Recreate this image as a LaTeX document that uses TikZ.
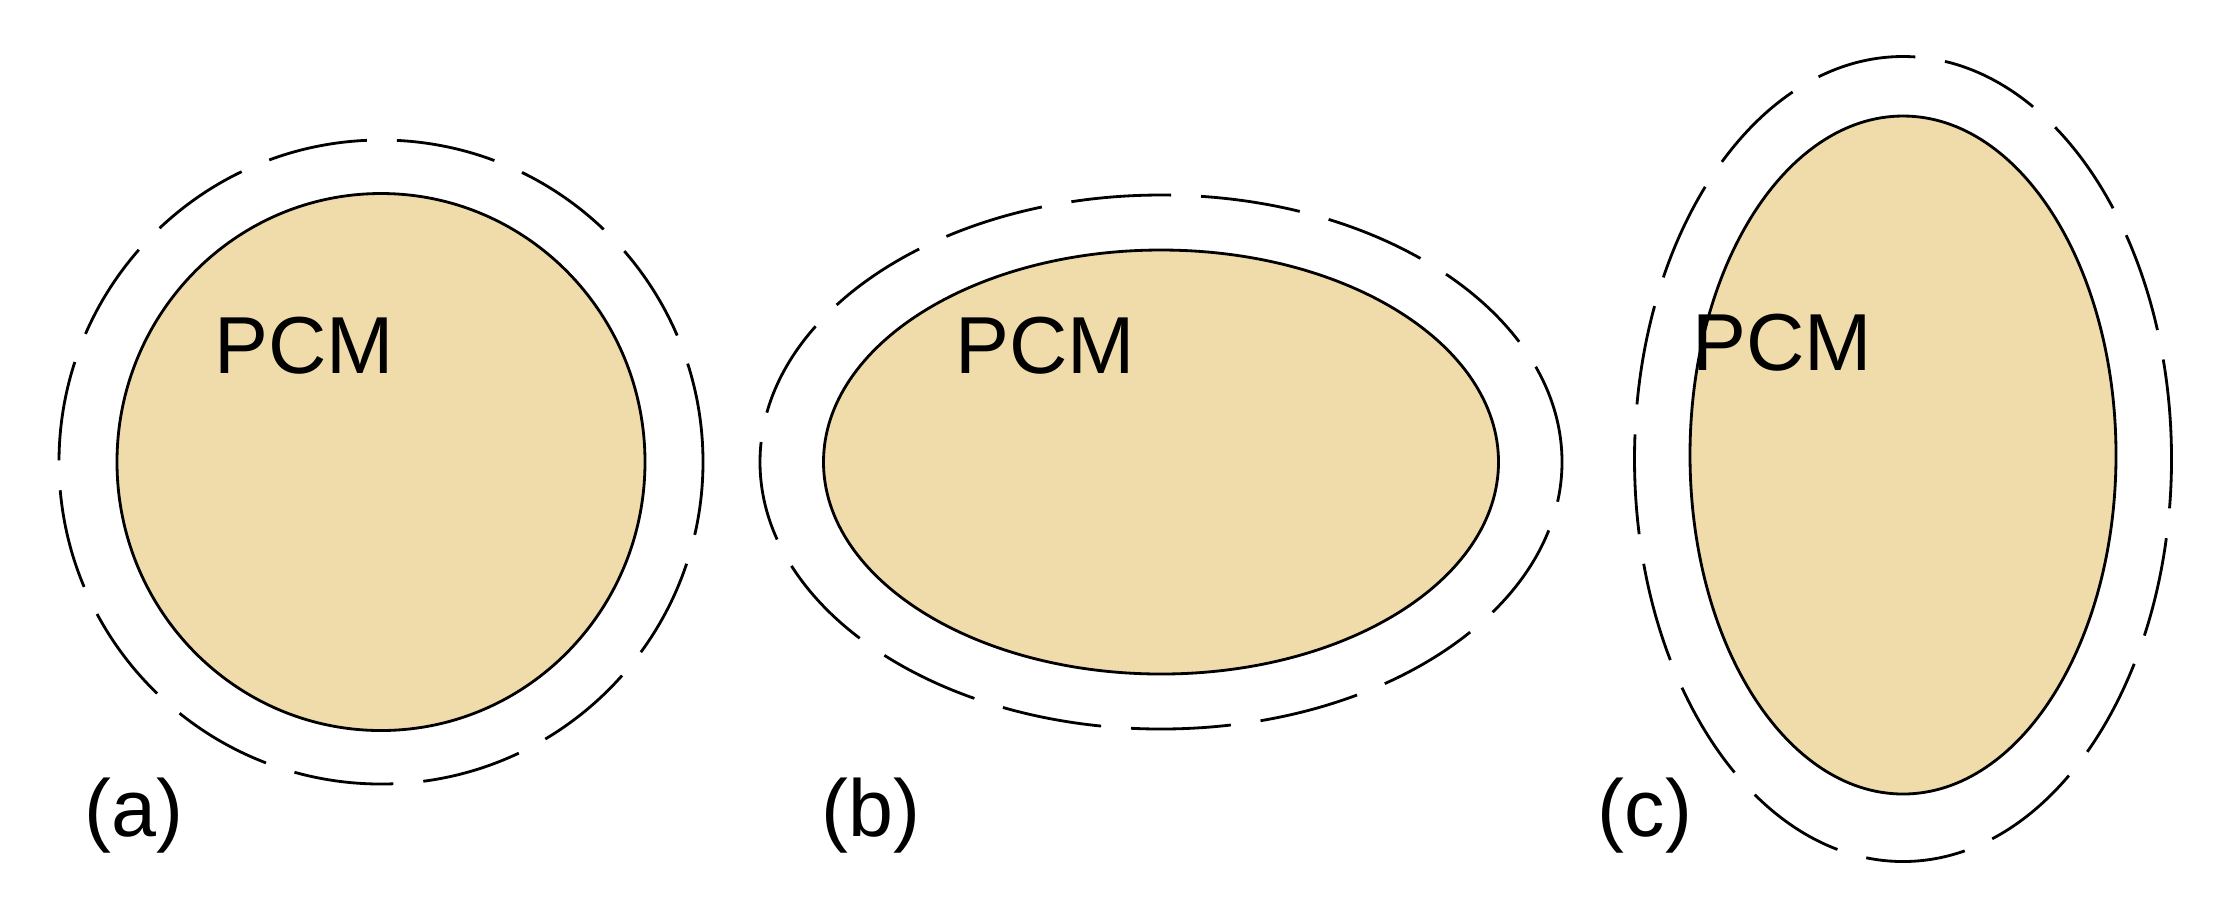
\documentclass[tikz,border=0pt]{standalone}
\usepackage{fontspec}
\setmainfont{Liberation Sans}
\usetikzlibrary{shapes.geometric}
\definecolor{pcm}{HTML}{F0DCAA}
\tikzset{
  core/.style={ellipse,draw=black,fill=pcm,inner sep=0pt,thick},
  shell/.style={ellipse,draw=black,inner sep=0pt,thick,dash pattern=on 1.0cm off 0.3cm},
  lbl/.style={font=\fontsize{23}{26}\selectfont}
}
\begin{document}
\begin{tikzpicture}
  \useasboundingbox (0,0) rectangle (22.14,-9.02);
  % (a) sphere
  \node[shell,minimum width=6.44cm,minimum height=6.44cm] (shellA) at (3.81,-4.62) {};
  \node[core,minimum width=5.28cm,minimum height=5.37cm] (coreA) at (3.81,-4.62) {};
  \node[lbl] (pcmA) at (3.04,-3.46) {PCM};
  \node[lbl] (capA) at (1.34,-8.16) {(a)};
  % (b) oblate
  \node[shell,minimum width=8.02cm,minimum height=5.34cm] (shellB) at (11.61,-4.62) {};
  \node[core,minimum width=6.75cm,minimum height=4.24cm] (coreB) at (11.61,-4.62) {};
  \node[lbl] (pcmB) at (10.45,-3.46) {PCM};
  \node[lbl] (capB) at (8.71,-8.16) {(b)};
  % (c) prolate
  \node[shell,minimum width=5.37cm,minimum height=8.05cm] (shellC) at (19.03,-4.59) {};
  \node[core,minimum width=4.26cm,minimum height=6.78cm] (coreC) at (19.03,-4.55) {};
  \node[lbl] (pcmC) at (17.82,-3.43) {PCM};
  \node[lbl] (capC) at (16.45,-8.16) {(c)};
\end{tikzpicture}
\end{document}
